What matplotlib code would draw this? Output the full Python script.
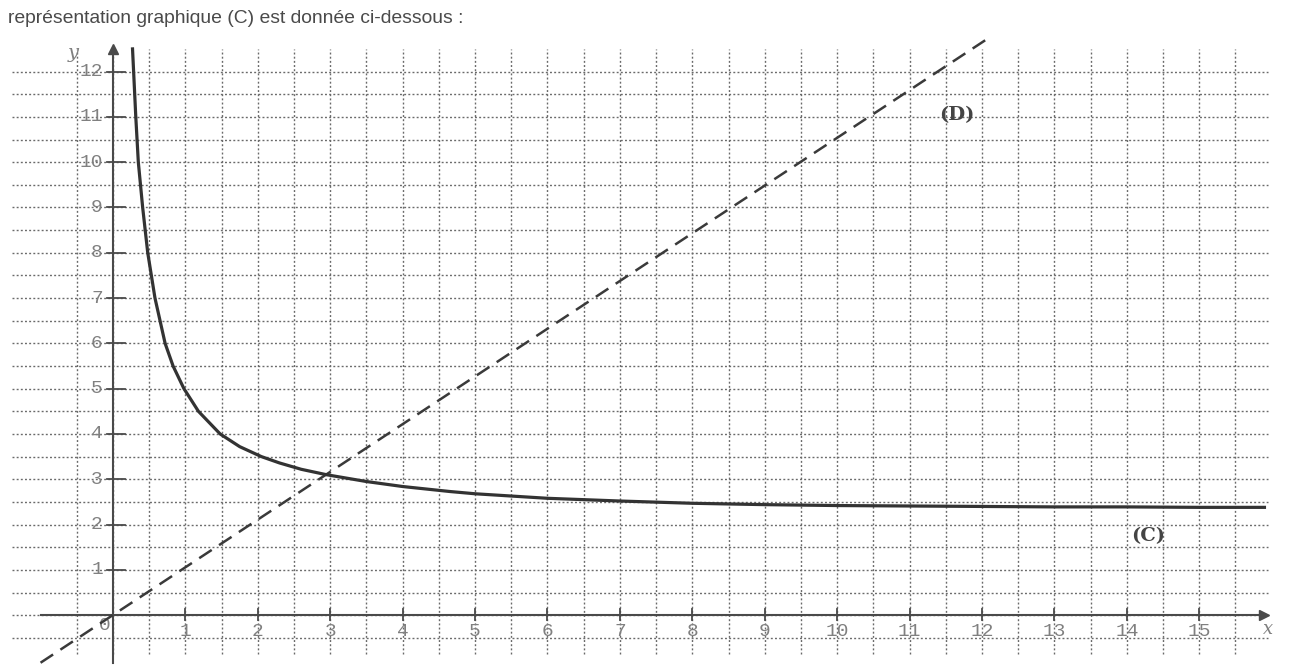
import numpy as np
import matplotlib.pyplot as plt

# values
curve_x = [0.27, 0.285, 0.315, 0.35, 0.41, 0.48, 0.58, 0.72, 0.83, 0.98, 1.18, 1.48,
           1.75, 2.05, 2.3, 2.6, 2.95, 3.5, 4.0, 4.65, 5.0, 6.0, 7.0, 8.0, 9.0, 10.0,
           11.0, 12.0, 13.0, 14.0, 15.0, 15.9]
curve_y = [12.5, 12.0, 11.0, 10.0, 9.0, 8.0, 7.0, 6.0, 5.5, 5.0, 4.5, 4.0,
           3.72, 3.5, 3.36, 3.22, 3.1, 2.95, 2.84, 2.73, 2.68, 2.58, 2.52, 2.47, 2.44,
           2.42, 2.41, 2.4, 2.39, 2.39, 2.38, 2.38]
line_x = [-1.0, 12.1]
line_y = [-1.05, 12.75]
x_ticks = list(range(1, 16))
y_ticks = list(range(1, 13))

title = "représentation graphique (C) est donnée ci-dessous :"

fig = plt.figure(figsize=(13.05, 6.65), dpi=100)
ax = fig.add_axes([0, 0, 1, 1])
ax.set_xlim(-1.56, 16.46)
ax.set_ylim(-1.1, 13.58)
ax.axis('off')

grid_col = '#6a6a6a'
dots = (0, (1.4, 1.6))
# dotted grid every half unit
for gx in np.arange(-0.5, 15.51, 0.5):
    ax.plot([gx, gx], [-0.85, 12.5], color=grid_col, lw=1.0, ls=dots, zorder=1)
for gy in np.arange(-0.5, 12.01, 0.5):
    ax.plot([-1.4, 15.95], [gy, gy], color=grid_col, lw=1.0, ls=dots, zorder=1)

# axes with arrows
axis_col = '#4a4a4a'
ax.plot([-1.0, 15.85], [0, 0], color=axis_col, lw=1.5, zorder=3)
ax.plot([0, 0], [-1.05, 12.45], color=axis_col, lw=1.5, zorder=3)
ax.plot(15.9, 0, marker='>', color=axis_col, ms=7, zorder=3)
ax.plot(0, 12.5, marker='^', color=axis_col, ms=7, zorder=3)

lab_col = '#808080'
for t in x_ticks:
    ax.plot([t, t], [-0.1, 0.14], color=axis_col, lw=1.3, zorder=3)
    ax.text(t, -0.36, str(t), ha='center', va='center', fontsize=14,
            family='Liberation Mono', color=lab_col)
for t in y_ticks:
    ax.plot([-0.08, 0.16], [t, t], color=axis_col, lw=1.3, zorder=3)
    ax.text(-0.14, t, str(t), ha='right', va='center', fontsize=14,
            family='Liberation Mono', color=lab_col)
ax.text(-0.12, -0.22, "0", ha='center', va='center', fontsize=14,
        family='Liberation Mono', color=lab_col)
ax.text(-0.55, 12.4, "y", ha='center', va='center', fontsize=14,
        family='DejaVu Serif', style='italic', color=lab_col)
ax.text(15.95, -0.3, "x", ha='center', va='center', fontsize=13,
        family='DejaVu Serif', style='italic', color=lab_col)

# (D) and (C)
ax.plot(line_x, line_y, color='#3a3a3a', lw=1.8, ls=(0, (6, 3.5)), zorder=4)
ax.plot(curve_x, curve_y, color='#333333', lw=2.3, solid_joinstyle='round', zorder=5)

ax.text(11.65, 11.05, "(D)", ha='center', va='center', fontsize=14,
        family='DejaVu Serif', weight='bold', color='#444444')
ax.text(14.3, 1.75, "(C)", ha='center', va='center', fontsize=14,
        family='DejaVu Serif', weight='bold', color='#444444')

fig.text(0.006, 0.972, title, ha='left', va='center', fontsize=13.9,
         family='Liberation Sans', color='#4a4a4a')

fig.savefig("out.png", dpi=100, facecolor='white')
